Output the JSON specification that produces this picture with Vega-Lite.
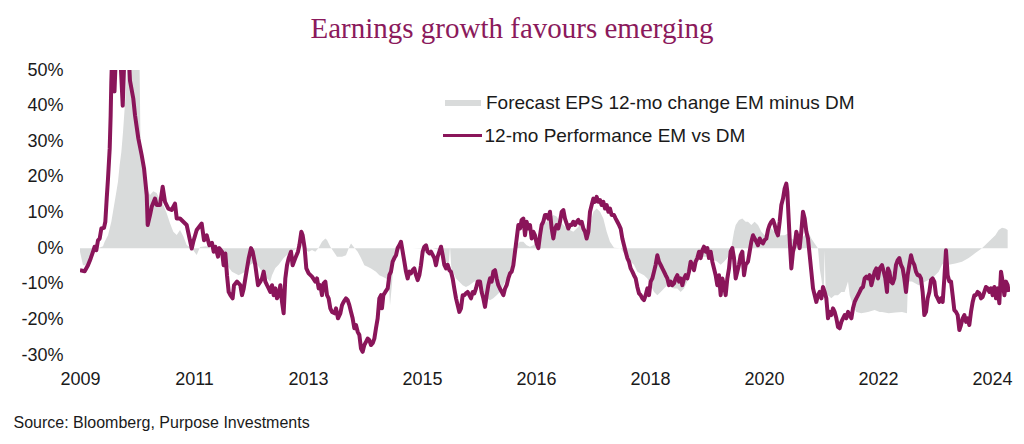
{
  "$schema": "https://vega.github.io/schema/vega-lite/v6.json",
  "width": 930,
  "height": 285,
  "autosize": {"type": "none"},
  "padding": {"left": 80, "top": 70, "right": 14, "bottom": 89},
  "background": "white",
  "title": {
    "text": "Earnings growth favours emerging",
    "font": "Liberation Serif",
    "fontSize": 29,
    "fontWeight": "normal",
    "color": "#8b1a5c",
    "anchor": "middle",
    "frame": "group",
    "dx": -33,
    "dy": 28,
    "baseline": "alphabetic",
    "offset": 22
  },
  "datasets": {
    "eps": [
      {"year":2009.35,"value":-1.0},{"year":2009.4,"value":-4.8},{"year":2009.483,"value":-4.8},{"year":2009.539,"value":-3.8},{"year":2009.594,"value":-1.0},{"year":2009.65,"value":0},{"year":2009.733,"value":0.5},{"year":2009.761,"value":1.8},{"year":2009.817,"value":3.6},{"year":2009.872,"value":7.4},{"year":2009.9,"value":10.2},{"year":2009.928,"value":13.0},{"year":2009.956,"value":15.8},{"year":2009.983,"value":18.6},{"year":2010.011,"value":23.3},{"year":2010.039,"value":27.0},{"year":2010.067,"value":32.6},{"year":2010.094,"value":39.2},{"year":2010.122,"value":45.7},{"year":2010.15,"value":55},{"year":2010.34,"value":55},{"year":2010.358,"value":30},{"year":2010.405,"value":23},{"year":2010.462,"value":16.8},{"year":2010.517,"value":14.9},{"year":2010.572,"value":16},{"year":2010.628,"value":15.5},{"year":2010.683,"value":13.5},{"year":2010.738,"value":12.1},{"year":2010.795,"value":9.8},{"year":2010.85,"value":7.0},{"year":2010.905,"value":4.6},{"year":2010.962,"value":3.7},{"year":2011.017,"value":5.1},{"year":2011.072,"value":3.3},{"year":2011.128,"value":0.9},{"year":2011.212,"value":0},{"year":2011.295,"value":-1.9},{"year":2011.35,"value":0.3},{"year":2011.45,"value":0.5},{"year":2011.55,"value":0},{"year":2011.717,"value":-1.0},{"year":2011.8,"value":-4.8},{"year":2011.883,"value":-6.6},{"year":2011.994,"value":-7.6},{"year":2012.106,"value":-6.6},{"year":2012.189,"value":-4.7},{"year":2012.272,"value":-3.8},{"year":2012.383,"value":-6.6},{"year":2012.467,"value":-8.5},{"year":2012.522,"value":-9.4},{"year":2012.55,"value":-7.6},{"year":2012.606,"value":-5.6},{"year":2012.661,"value":-4.7},{"year":2012.744,"value":-2.8},{"year":2012.828,"value":-1.5},{"year":2012.911,"value":-0.6},{"year":2012.967,"value":0},{"year":2013.05,"value":0},{"year":2013.161,"value":-1.0},{"year":2013.217,"value":-0.5},{"year":2013.272,"value":-1.0},{"year":2013.328,"value":0.1},{"year":2013.383,"value":1.8},{"year":2013.439,"value":2.7},{"year":2013.467,"value":2.3},{"year":2013.522,"value":0.4},{"year":2013.578,"value":-1.0},{"year":2013.633,"value":-2.4},{"year":2013.717,"value":-2.4},{"year":2013.783,"value":-2.0},{"year":2013.839,"value":0.4},{"year":2013.867,"value":1.3},{"year":2013.922,"value":0.1},{"year":2013.978,"value":-1.0},{"year":2014.033,"value":-2.8},{"year":2014.089,"value":-4.8},{"year":2014.144,"value":-5.2},{"year":2014.2,"value":-5.7},{"year":2014.283,"value":-6.6},{"year":2014.339,"value":-7.6},{"year":2014.394,"value":-8.0},{"year":2014.45,"value":-8.5},{"year":2014.494,"value":-9.4},{"year":2014.517,"value":-16},{"year":2014.55,"value":-10},{"year":2014.572,"value":-4.8},{"year":2014.617,"value":-2.0},{"year":2014.672,"value":-0.5},{"year":2014.7,"value":0},{"year":2014.894,"value":0},{"year":2015.117,"value":0.1},{"year":2015.228,"value":0},{"year":2015.339,"value":-0.5},{"year":2015.394,"value":-1.9},{"year":2015.45,"value":-3.8},{"year":2015.494,"value":-4.7},{"year":2015.517,"value":0.4},{"year":2015.539,"value":-5.7},{"year":2015.617,"value":-8.5},{"year":2015.728,"value":-10.4},{"year":2015.783,"value":-10.9},{"year":2015.839,"value":-10.4},{"year":2015.922,"value":-9.4},{"year":2016.017,"value":-9.4},{"year":2016.072,"value":-12.3},{"year":2016.128,"value":-14.1},{"year":2016.183,"value":-14.6},{"year":2016.239,"value":-14.1},{"year":2016.294,"value":-13.2},{"year":2016.35,"value":-12.3},{"year":2016.406,"value":-10.4},{"year":2016.461,"value":-8.5},{"year":2016.517,"value":-6.6},{"year":2016.572,"value":-2.8},{"year":2016.6,"value":0},{"year":2016.628,"value":0.8},{"year":2016.683,"value":1.8},{"year":2016.739,"value":1.8},{"year":2016.794,"value":0.8},{"year":2016.85,"value":0.4},{"year":2016.906,"value":0.8},{"year":2016.961,"value":1.8},{"year":2017.017,"value":4.6},{"year":2017.072,"value":6.5},{"year":2017.128,"value":7.4},{"year":2017.183,"value":8.3},{"year":2017.239,"value":9.3},{"year":2017.294,"value":8.9},{"year":2017.35,"value":7.4},{"year":2017.406,"value":6.5},{"year":2017.461,"value":5.5},{"year":2017.517,"value":5.1},{"year":2017.572,"value":4.6},{"year":2017.628,"value":5.5},{"year":2017.683,"value":6.5},{"year":2017.739,"value":5.5},{"year":2017.794,"value":4.6},{"year":2017.85,"value":6.5},{"year":2017.906,"value":10.2},{"year":2017.961,"value":11.1},{"year":2018.017,"value":10.2},{"year":2018.072,"value":8.3},{"year":2018.128,"value":4.6},{"year":2018.183,"value":1.8},{"year":2018.25,"value":0.1},{"year":2018.361,"value":0},{"year":2018.417,"value":-1.4},{"year":2018.472,"value":-2.8},{"year":2018.528,"value":-3.8},{"year":2018.583,"value":-4.7},{"year":2018.639,"value":-6.6},{"year":2018.694,"value":-7.1},{"year":2018.75,"value":-7.6},{"year":2018.806,"value":-8.5},{"year":2018.861,"value":-10.4},{"year":2018.917,"value":-12.3},{"year":2018.972,"value":-13.2},{"year":2019.028,"value":-12.3},{"year":2019.083,"value":-11.3},{"year":2019.139,"value":-10.4},{"year":2019.194,"value":-10.9},{"year":2019.25,"value":-11.3},{"year":2019.306,"value":-11.3},{"year":2019.361,"value":-12.3},{"year":2019.417,"value":-11.3},{"year":2019.472,"value":-9.4},{"year":2019.528,"value":-6.6},{"year":2019.583,"value":-4.7},{"year":2019.639,"value":-3.8},{"year":2019.694,"value":-2.8},{"year":2019.75,"value":-2.4},{"year":2019.806,"value":-2.4},{"year":2019.861,"value":-2.8},{"year":2019.917,"value":-3.3},{"year":2019.972,"value":-3.8},{"year":2020.028,"value":-4.7},{"year":2020.083,"value":-3.8},{"year":2020.139,"value":-2.8},{"year":2020.194,"value":-1.0},{"year":2020.222,"value":1.8},{"year":2020.25,"value":4.6},{"year":2020.278,"value":6.5},{"year":2020.333,"value":7.9},{"year":2020.389,"value":8.3},{"year":2020.444,"value":7.4},{"year":2020.483,"value":7.4},{"year":2020.539,"value":6.5},{"year":2020.594,"value":7.4},{"year":2020.65,"value":6.5},{"year":2020.706,"value":4.6},{"year":2020.761,"value":3.6},{"year":2020.817,"value":4.6},{"year":2020.872,"value":5.5},{"year":2020.928,"value":4.6},{"year":2020.983,"value":3.6},{"year":2021.094,"value":3.6},{"year":2021.15,"value":4.1},{"year":2021.206,"value":2.7},{"year":2021.261,"value":2.3},{"year":2021.317,"value":1.8},{"year":2021.372,"value":2.7},{"year":2021.428,"value":3.6},{"year":2021.483,"value":4.6},{"year":2021.539,"value":2.7},{"year":2021.594,"value":1.3},{"year":2021.65,"value":0},{"year":2021.678,"value":-5.7},{"year":2021.706,"value":-8.5},{"year":2021.744,"value":-14.1},{"year":2021.761,"value":-0.5},{"year":2021.778,"value":-12.3},{"year":2021.817,"value":-13.2},{"year":2021.872,"value":-14.1},{"year":2021.928,"value":-13.2},{"year":2021.983,"value":-13.2},{"year":2022.039,"value":-12.3},{"year":2022.094,"value":-12.3},{"year":2022.15,"value":-9.4},{"year":2022.178,"value":-13.2},{"year":2022.233,"value":-16.0},{"year":2022.289,"value":-17.9},{"year":2022.372,"value":-18.3},{"year":2022.483,"value":-17.9},{"year":2022.594,"value":-17.4},{"year":2022.678,"value":-17.9},{"year":2022.717,"value":-17.9},{"year":2022.828,"value":-18.3},{"year":2022.939,"value":-18.1},{"year":2023.05,"value":-17.9},{"year":2023.133,"value":-18.3},{"year":2023.15,"value":-9.4},{"year":2023.217,"value":-9.4},{"year":2023.328,"value":-10.4},{"year":2023.439,"value":-9.4},{"year":2023.55,"value":-8.5},{"year":2023.661,"value":-6.6},{"year":2023.717,"value":-4.7},{"year":2023.772,"value":-3.8},{"year":2023.828,"value":-4.7},{"year":2023.939,"value":-4.3},{"year":2024.05,"value":-3.8},{"year":2024.161,"value":-2.8},{"year":2024.272,"value":-1.4},{"year":2024.383,"value":0},{"year":2024.494,"value":1.8},{"year":2024.606,"value":3.6},{"year":2024.661,"value":5.1},{"year":2024.717,"value":5.7},{"year":2024.772,"value":5.5},{"year":2024.811,"value":5.1}
    ],
    "perf": [
      {"year":2009.35,"value":-6.2},{"year":2009.428,"value":-6.5},{"year":2009.483,"value":-4.8},{"year":2009.528,"value":-2.9},{"year":2009.567,"value":-1.0},{"year":2009.594,"value":0.4},{"year":2009.622,"value":-0.6},{"year":2009.65,"value":2.2},{"year":2009.678,"value":2.7},{"year":2009.706,"value":5.5},{"year":2009.75,"value":5.7},{"year":2009.772,"value":7.4},{"year":2009.795,"value":13.9},{"year":2009.817,"value":19.6},{"year":2009.845,"value":28.0},{"year":2009.861,"value":37.3},{"year":2009.872,"value":46.7},{"year":2009.889,"value":56},{"year":2009.9,"value":55},{"year":2009.925,"value":44},{"year":2009.95,"value":55},{"year":2009.983,"value":58},{"year":2010.033,"value":50},{"year":2010.062,"value":40},{"year":2010.092,"value":55},{"year":2010.133,"value":58},{"year":2010.16,"value":55},{"year":2010.183,"value":47},{"year":2010.238,"value":42},{"year":2010.267,"value":37.3},{"year":2010.322,"value":30.8},{"year":2010.378,"value":26.1},{"year":2010.417,"value":22.4},{"year":2010.462,"value":14.9},{"year":2010.478,"value":6.5},{"year":2010.517,"value":9.3},{"year":2010.545,"value":11.6},{"year":2010.6,"value":13.9},{"year":2010.628,"value":12.1},{"year":2010.683,"value":12.1},{"year":2010.728,"value":17.2},{"year":2010.767,"value":13.0},{"year":2010.822,"value":11.1},{"year":2010.878,"value":10.7},{"year":2010.933,"value":12.5},{"year":2010.962,"value":8.3},{"year":2011.017,"value":8.3},{"year":2011.072,"value":7.4},{"year":2011.128,"value":6.5},{"year":2011.212,"value":-0.1},{"year":2011.238,"value":1.8},{"year":2011.295,"value":5.1},{"year":2011.378,"value":6.9},{"year":2011.417,"value":2.2},{"year":2011.462,"value":3.6},{"year":2011.505,"value":0.8},{"year":2011.55,"value":1.5},
      {"year":2011.578,"value":-1.0},{"year":2011.606,"value":0.4},{"year":2011.65,"value":-2.4},{"year":2011.672,"value":0.0},{"year":2011.717,"value":-1.0},{"year":2011.744,"value":-4.8},{"year":2011.772,"value":-1.5},{"year":2011.8,"value":-7.6},{"year":2011.828,"value":-12.3},{"year":2011.856,"value":-13.2},{"year":2011.894,"value":-14.1},{"year":2011.917,"value":-10.4},{"year":2011.967,"value":-9.4},{"year":2012.022,"value":-10.4},{"year":2012.05,"value":-13.2},{"year":2012.078,"value":-11.4},{"year":2012.106,"value":-8.5},{"year":2012.161,"value":-2.9},{"year":2012.2,"value":0.0},{"year":2012.228,"value":-1.0},{"year":2012.272,"value":-4.8},{"year":2012.317,"value":-10.4},{"year":2012.356,"value":-9.4},{"year":2012.383,"value":-8.5},{"year":2012.411,"value":-6.6},{"year":2012.439,"value":-9.4},{"year":2012.467,"value":-10.4},{"year":2012.494,"value":-11.3},{"year":2012.522,"value":-12.3},{"year":2012.55,"value":-10.4},{"year":2012.578,"value":-13.2},{"year":2012.606,"value":-11.3},{"year":2012.633,"value":-14.1},{"year":2012.661,"value":-13.2},{"year":2012.689,"value":-10.4},{"year":2012.717,"value":-15.1},{"year":2012.744,"value":-18.3},{"year":2012.772,"value":-8.5},{"year":2012.8,"value":-4.8},{"year":2012.828,"value":-2.8},{"year":2012.867,"value":-1.0},{"year":2012.894,"value":-4.8},{"year":2012.939,"value":-2.8},{"year":2012.983,"value":-1.0},{"year":2013.006,"value":0.8},{"year":2013.039,"value":4.6},{"year":2013.061,"value":3.6},{"year":2013.094,"value":0.0},{"year":2013.122,"value":-5.7},{"year":2013.161,"value":-7.1},{"year":2013.217,"value":-8.0},{"year":2013.272,"value":-9.4},{"year":2013.3,"value":-8.5},{"year":2013.328,"value":-11.3},{"year":2013.356,"value":-10.4},{"year":2013.383,"value":-13.2},{"year":2013.411,"value":-9.9},{"year":2013.439,"value":-9.4},{"year":2013.467,"value":-13.2},{"year":2013.494,"value":-14.1},{"year":2013.522,"value":-16.9},{"year":2013.55,"value":-17.9},{"year":2013.594,"value":-18.3},{"year":2013.617,"value":-16.9},{"year":2013.65,"value":-19.7},{"year":2013.689,"value":-18.3},{"year":2013.717,"value":-16.0},{"year":2013.744,"value":-15.1},{"year":2013.783,"value":-14.1},
      {"year":2013.811,"value":-14.6},{"year":2013.839,"value":-16.0},{"year":2013.867,"value":-17.9},{"year":2013.894,"value":-19.7},{"year":2013.922,"value":-22.5},{"year":2013.95,"value":-21.6},{"year":2013.978,"value":-23.5},{"year":2014.006,"value":-24.4},{"year":2014.033,"value":-28.2},{"year":2014.061,"value":-29.1},{"year":2014.089,"value":-27.2},{"year":2014.117,"value":-26.3},{"year":2014.144,"value":-25.4},{"year":2014.172,"value":-25.8},{"year":2014.2,"value":-27.2},{"year":2014.228,"value":-26.7},{"year":2014.256,"value":-25.4},{"year":2014.283,"value":-22.5},{"year":2014.311,"value":-19.7},{"year":2014.339,"value":-14.1},{"year":2014.367,"value":-13.2},{"year":2014.383,"value":-16.9},{"year":2014.406,"value":-13.2},{"year":2014.439,"value":-12.3},{"year":2014.478,"value":-11.3},{"year":2014.506,"value":-7.6},{"year":2014.533,"value":-6.6},{"year":2014.561,"value":-3.8},{"year":2014.589,"value":-2.8},{"year":2014.617,"value":-2.0},{"year":2014.644,"value":0.0},{"year":2014.672,"value":0.8},{"year":2014.7,"value":1.8},{"year":2014.728,"value":-1.0},{"year":2014.756,"value":-3.8},{"year":2014.783,"value":-6.6},{"year":2014.811,"value":-8.5},{"year":2014.839,"value":-6.6},{"year":2014.867,"value":-7.1},{"year":2014.894,"value":-6.2},{"year":2014.922,"value":-5.7},{"year":2014.95,"value":-7.6},{"year":2014.978,"value":-9.0},{"year":2015.006,"value":-7.6},{"year":2015.033,"value":-4.8},{"year":2015.061,"value":-1.0},{"year":2015.089,"value":0.4},{"year":2015.117,"value":0.8},{"year":2015.144,"value":-1.0},{"year":2015.172,"value":-1.5},{"year":2015.2,"value":-1.0},{"year":2015.228,"value":-1.9},{"year":2015.256,"value":-2.8},{"year":2015.283,"value":-4.8},{"year":2015.311,"value":-2.4},{"year":2015.339,"value":-1.0},{"year":2015.367,"value":0.4},{"year":2015.394,"value":-1.9},{"year":2015.422,"value":-4.7},{"year":2015.45,"value":-5.7},{"year":2015.478,"value":-4.7},{"year":2015.506,"value":-6.2},{"year":2015.533,"value":-6.6},{"year":2015.561,"value":-8.5},{"year":2015.589,"value":-11.4},{"year":2015.617,"value":-14.1},{"year":2015.644,"value":-16.0},{"year":2015.672,"value":-17.9},{"year":2015.7,"value":-16.9},{"year":2015.728,"value":-13.2},{"year":2015.756,"value":-13.2},{"year":2015.783,"value":-12.7},{"year":2015.811,"value":-12.3},{"year":2015.839,"value":-13.2},{"year":2015.867,"value":-14.1},{"year":2015.894,"value":-12.3},{"year":2015.922,"value":-12.7},{"year":2015.95,"value":-11.3},{"year":2015.978,"value":-9.4},
      {"year":2016.017,"value":-9.4},{"year":2016.044,"value":-12.3},{"year":2016.072,"value":-14.1},{"year":2016.1,"value":-16.5},{"year":2016.128,"value":-13.2},{"year":2016.156,"value":-10.4},{"year":2016.183,"value":-8.5},{"year":2016.211,"value":-9.4},{"year":2016.239,"value":-6.6},{"year":2016.267,"value":-6.2},{"year":2016.294,"value":-8.5},{"year":2016.322,"value":-10.4},{"year":2016.35,"value":-11.4},{"year":2016.378,"value":-12.3},{"year":2016.406,"value":-13.2},{"year":2016.433,"value":-11.4},{"year":2016.461,"value":-10.4},{"year":2016.489,"value":-8.5},{"year":2016.517,"value":-7.1},{"year":2016.544,"value":-6.6},{"year":2016.572,"value":-4.8},{"year":2016.6,"value":-1.0},{"year":2016.628,"value":2.7},{"year":2016.656,"value":6.5},{"year":2016.683,"value":5.5},{"year":2016.711,"value":7.9},{"year":2016.739,"value":8.3},{"year":2016.767,"value":3.6},{"year":2016.794,"value":7.4},{"year":2016.822,"value":5.5},{"year":2016.85,"value":6.5},{"year":2016.878,"value":2.7},{"year":2016.906,"value":4.6},{"year":2016.933,"value":3.6},{"year":2016.961,"value":1.3},{"year":2016.989,"value":0.0},{"year":2017.017,"value":3.6},{"year":2017.044,"value":6.5},{"year":2017.072,"value":7.4},{"year":2017.1,"value":9.3},{"year":2017.128,"value":9.3},{"year":2017.156,"value":8.3},{"year":2017.183,"value":10.2},{"year":2017.211,"value":5.5},{"year":2017.239,"value":2.7},{"year":2017.267,"value":5.5},{"year":2017.294,"value":6.5},{"year":2017.322,"value":5.5},{"year":2017.35,"value":7.4},{"year":2017.378,"value":10.2},{"year":2017.406,"value":10.7},{"year":2017.433,"value":8.3},{"year":2017.461,"value":6.9},{"year":2017.489,"value":5.5},{"year":2017.517,"value":6.5},{"year":2017.544,"value":6.5},{"year":2017.572,"value":7.4},{"year":2017.6,"value":6.5},{"year":2017.628,"value":7.4},{"year":2017.656,"value":7.9},{"year":2017.683,"value":6.9},{"year":2017.711,"value":7.4},{"year":2017.739,"value":5.5},{"year":2017.767,"value":4.6},{"year":2017.794,"value":2.7},{"year":2017.822,"value":4.6},{"year":2017.85,"value":10.2},{"year":2017.878,"value":12.1},{"year":2017.906,"value":13.9},{"year":2017.933,"value":13.0},{"year":2017.961,"value":14.4},{"year":2017.989,"value":13.0},{"year":2018.017,"value":13.5},{"year":2018.044,"value":12.1},{"year":2018.072,"value":13.0},{"year":2018.1,"value":11.1},{"year":2018.128,"value":12.1},{"year":2018.156,"value":10.2},{"year":2018.183,"value":11.1},{"year":2018.211,"value":9.3},
      {"year":2018.25,"value":9.3},{"year":2018.278,"value":8.3},{"year":2018.306,"value":7.4},{"year":2018.333,"value":6.5},{"year":2018.361,"value":5.5},{"year":2018.389,"value":2.7},{"year":2018.417,"value":0.8},{"year":2018.444,"value":-1.0},{"year":2018.472,"value":-2.8},{"year":2018.5,"value":-3.8},{"year":2018.528,"value":-5.7},{"year":2018.556,"value":-6.6},{"year":2018.583,"value":-7.6},{"year":2018.611,"value":-8.5},{"year":2018.639,"value":-10.9},{"year":2018.667,"value":-12.7},{"year":2018.694,"value":-13.2},{"year":2018.722,"value":-14.1},{"year":2018.75,"value":-14.6},{"year":2018.778,"value":-13.2},{"year":2018.806,"value":-11.3},{"year":2018.833,"value":-13.2},{"year":2018.861,"value":-9.4},{"year":2018.889,"value":-8.5},{"year":2018.917,"value":-6.6},{"year":2018.944,"value":-4.7},{"year":2018.972,"value":-2.0},{"year":2019.0,"value":-3.8},{"year":2019.028,"value":-4.7},{"year":2019.056,"value":-5.7},{"year":2019.083,"value":-6.6},{"year":2019.111,"value":-7.6},{"year":2019.139,"value":-8.5},{"year":2019.167,"value":-10.4},{"year":2019.194,"value":-9.4},{"year":2019.222,"value":-10.4},{"year":2019.25,"value":-9.9},{"year":2019.278,"value":-8.5},{"year":2019.306,"value":-7.6},{"year":2019.333,"value":-9.4},{"year":2019.361,"value":-8.5},{"year":2019.389,"value":-10.4},{"year":2019.417,"value":-8.5},{"year":2019.444,"value":-7.6},{"year":2019.472,"value":-8.5},{"year":2019.5,"value":-6.6},{"year":2019.528,"value":-3.8},{"year":2019.556,"value":-4.7},{"year":2019.583,"value":-6.2},{"year":2019.611,"value":-3.8},{"year":2019.639,"value":-2.8},{"year":2019.667,"value":-1.0},{"year":2019.694,"value":-2.8},{"year":2019.722,"value":-0.6},{"year":2019.75,"value":0.4},{"year":2019.778,"value":-1.0},{"year":2019.806,"value":0.0},{"year":2019.833,"value":-2.8},{"year":2019.861,"value":-1.0},{"year":2019.889,"value":-3.8},{"year":2019.917,"value":-5.7},{"year":2019.944,"value":-7.6},{"year":2019.972,"value":-10.4},{"year":2020.0,"value":-7.6},{"year":2020.028,"value":-13.2},{"year":2020.056,"value":-8.5},{"year":2020.083,"value":-10.4},{"year":2020.111,"value":-13.2},{"year":2020.139,"value":-8.5},{"year":2020.167,"value":-5.7},{"year":2020.194,"value":-1.0},{"year":2020.222,"value":0.0},{"year":2020.25,"value":-2.8},{"year":2020.278,"value":-8.5},{"year":2020.306,"value":-6.6},{"year":2020.333,"value":-4.7},{"year":2020.361,"value":-2.0},{"year":2020.389,"value":-1.0},{"year":2020.417,"value":-7.6},{"year":2020.444,"value":-4.7},
      {"year":2020.483,"value":-3.8},{"year":2020.511,"value":-1.0},{"year":2020.539,"value":1.8},{"year":2020.567,"value":3.6},{"year":2020.594,"value":2.7},{"year":2020.622,"value":1.8},{"year":2020.65,"value":0.8},{"year":2020.678,"value":2.7},{"year":2020.706,"value":1.8},{"year":2020.733,"value":1.3},{"year":2020.761,"value":2.3},{"year":2020.789,"value":2.7},{"year":2020.817,"value":5.1},{"year":2020.844,"value":6.5},{"year":2020.872,"value":7.4},{"year":2020.9,"value":7.9},{"year":2020.928,"value":6.5},{"year":2020.956,"value":4.6},{"year":2020.983,"value":3.6},{"year":2021.011,"value":7.4},{"year":2021.039,"value":12.1},{"year":2021.067,"value":13.9},{"year":2021.094,"value":16.7},{"year":2021.122,"value":18.1},{"year":2021.139,"value":15.8},{"year":2021.161,"value":8.3},{"year":2021.183,"value":0.8},{"year":2021.206,"value":-5.7},{"year":2021.233,"value":-1.0},{"year":2021.261,"value":0.8},{"year":2021.289,"value":4.6},{"year":2021.317,"value":2.7},{"year":2021.344,"value":0.0},{"year":2021.372,"value":4.6},{"year":2021.4,"value":10.2},{"year":2021.428,"value":8.3},{"year":2021.456,"value":4.6},{"year":2021.483,"value":2.7},{"year":2021.511,"value":-1.9},{"year":2021.539,"value":-6.6},{"year":2021.567,"value":-11.3},{"year":2021.594,"value":-13.2},{"year":2021.622,"value":-15.1},{"year":2021.65,"value":-13.2},{"year":2021.678,"value":-12.3},{"year":2021.706,"value":-14.1},{"year":2021.733,"value":-10.9},{"year":2021.761,"value":-12.3},{"year":2021.789,"value":-14.1},{"year":2021.817,"value":-19.7},{"year":2021.844,"value":-17.9},{"year":2021.872,"value":-18.8},{"year":2021.9,"value":-16.9},{"year":2021.928,"value":-17.9},{"year":2021.956,"value":-19.7},{"year":2021.983,"value":-22.1},{"year":2022.011,"value":-22.5},{"year":2022.039,"value":-20.7},{"year":2022.067,"value":-19.7},{"year":2022.094,"value":-18.8},{"year":2022.122,"value":-19.7},{"year":2022.15,"value":-17.9},{"year":2022.178,"value":-18.8},{"year":2022.206,"value":-19.7},{"year":2022.233,"value":-16.9},{"year":2022.261,"value":-15.1},{"year":2022.289,"value":-14.1},{"year":2022.317,"value":-13.2},{"year":2022.344,"value":-12.3},{"year":2022.372,"value":-11.3},{"year":2022.4,"value":-10.9},{"year":2022.428,"value":-8.5},{"year":2022.456,"value":-8.0},{"year":2022.483,"value":-8.5},{"year":2022.511,"value":-7.6},{"year":2022.539,"value":-10.4},{"year":2022.567,"value":-8.5},{"year":2022.594,"value":-6.6},{"year":2022.622,"value":-5.7},{"year":2022.65,"value":-8.5},{"year":2022.678,"value":-5.7},{"year":2022.717,"value":-4.8},
      {"year":2022.744,"value":-6.5},{"year":2022.772,"value":-8.5},{"year":2022.8,"value":-12.3},{"year":2022.817,"value":-5.7},{"year":2022.839,"value":-6.6},{"year":2022.867,"value":-9.4},{"year":2022.894,"value":-9.9},{"year":2022.922,"value":-8.5},{"year":2022.95,"value":-4.7},{"year":2022.978,"value":-3.4},{"year":2023.006,"value":-2.8},{"year":2023.033,"value":-4.7},{"year":2023.061,"value":-5.7},{"year":2023.089,"value":-8.5},{"year":2023.117,"value":-12.3},{"year":2023.144,"value":-7.6},{"year":2023.172,"value":-4.7},{"year":2023.2,"value":-2.0},{"year":2023.228,"value":-3.8},{"year":2023.256,"value":-4.7},{"year":2023.283,"value":-6.6},{"year":2023.311,"value":-7.6},{"year":2023.339,"value":-7.6},{"year":2023.367,"value":-8.5},{"year":2023.394,"value":-12.3},{"year":2023.422,"value":-18.8},{"year":2023.45,"value":-17.9},{"year":2023.478,"value":-14.1},{"year":2023.506,"value":-12.3},{"year":2023.533,"value":-9.0},{"year":2023.561,"value":-8.5},{"year":2023.589,"value":-9.4},{"year":2023.617,"value":-13.2},{"year":2023.644,"value":-14.1},{"year":2023.672,"value":-15.1},{"year":2023.7,"value":-14.1},{"year":2023.728,"value":-15.1},{"year":2023.756,"value":-8.5},{"year":2023.783,"value":-0.6},{"year":2023.811,"value":-7.6},{"year":2023.839,"value":-9.4},{"year":2023.867,"value":-9.4},{"year":2023.894,"value":-13.2},{"year":2023.922,"value":-17.4},{"year":2023.95,"value":-17.9},{"year":2023.978,"value":-18.8},{"year":2024.006,"value":-23.0},{"year":2024.033,"value":-21.6},{"year":2024.061,"value":-19.7},{"year":2024.089,"value":-18.8},{"year":2024.117,"value":-20.7},{"year":2024.144,"value":-19.7},{"year":2024.172,"value":-21.6},{"year":2024.2,"value":-17.9},{"year":2024.228,"value":-15.1},{"year":2024.256,"value":-13.2},{"year":2024.283,"value":-13.2},{"year":2024.311,"value":-12.3},{"year":2024.339,"value":-12.7},{"year":2024.367,"value":-14.1},{"year":2024.394,"value":-13.7},{"year":2024.422,"value":-12.3},{"year":2024.45,"value":-10.9},{"year":2024.478,"value":-11.3},{"year":2024.506,"value":-12.3},{"year":2024.533,"value":-11.3},{"year":2024.561,"value":-13.2},{"year":2024.589,"value":-10.9},{"year":2024.617,"value":-14.1},{"year":2024.644,"value":-11.3},{"year":2024.672,"value":-15.5},{"year":2024.7,"value":-6.6},{"year":2024.728,"value":-9.4},{"year":2024.756,"value":-13.2},{"year":2024.783,"value":-9.4},{"year":2024.811,"value":-10.4},{"year":2024.828,"value":-12.3}
    ]
  },
  "encoding": {
    "x": {
      "field": "year", "type": "quantitative",
      "scale": {"domain": [2009.35, 2024.85], "nice": false, "zero": false},
      "axis": {
        "values": [2009.35, 2011.25, 2013.15, 2015.05, 2016.95, 2018.85, 2020.75, 2022.65, 2024.55],
        "labelExpr": "'' + floor(datum.value)",
        "labelFont": "Liberation Sans", "labelFontSize": 18, "labelColor": "#1a1a1a",
        "labelPadding": 15, "labelBaseline": "top", "labelFlush": false, "labelOverlap": false, "labelBound": false,
        "ticks": false, "tickSize": 0, "domain": false, "grid": false,
        "title": "Source: Bloomberg, Purpose Investments",
        "titleFont": "Liberation Sans", "titleFontSize": 16, "titleFontWeight": "normal", "titleColor": "#1a1a1a",
        "titleAlign": "left", "titleAnchor": "start", "titleBaseline": "alphabetic", "titleX": -67, "titleY": 72
      }
    },
    "y": {
      "field": "value", "type": "quantitative",
      "scale": {"domain": [-30, 50], "nice": false},
      "axis": {
        "values": [-30, -20, -10, 0, 10, 20, 30, 40, 50],
        "labelExpr": "datum.value + '%'",
        "labelFont": "Liberation Sans", "labelFontSize": 18, "labelColor": "#1a1a1a",
        "labelPadding": 17, "ticks": false, "tickSize": 0, "domain": false, "grid": false,
        "labelBound": false, "labelOverlap": false, "labelFlush": false,
        "title": null
      }
    }
  },
  "layer": [
    {
      "data": {"name": "eps"},
      "mark": {"type": "area", "clip": true, "opacity": 1},
      "encoding": {
        "fill": {
          "datum": "Forecast EPS 12-mo change EM minus DM", "type": "nominal",
          "scale": {"range": ["#d9dbdb"]},
          "legend": {
            "orient": "none", "legendX": 365, "legendY": 15, "padding": 0, "title": null,
            "symbolType": "M-1,-0.167H1V0.167H-1Z", "symbolSize": 1296, "symbolStrokeWidth": 0,
            "labelFont": "Liberation Sans", "labelFontSize": 19, "labelColor": "#1a1a1a",
            "labelOffset": 5, "labelLimit": 600
          }
        }
      }
    },
    {
      "data": {"name": "perf"},
      "mark": {"type": "line", "clip": true, "strokeWidth": 4, "strokeJoin": "round"},
      "encoding": {
        "stroke": {
          "datum": "12-mo Performance EM vs DM", "type": "nominal",
          "scale": {"range": ["#8a155a"]},
          "legend": {
            "orient": "none", "legendX": 361.5, "legendY": 44.6, "padding": 0, "title": null,
            "symbolType": "stroke", "symbolSize": 1521, "symbolStrokeWidth": 3,
            "labelFont": "Liberation Sans", "labelFontSize": 19, "labelColor": "#1a1a1a",
            "labelOffset": 1, "labelLimit": 600
          }
        }
      }
    }
  ],
  "config": {
    "view": {"stroke": null},
    "legend": {"padding": 0},
    "axis": {"labelOverlap": false}
  }
}
